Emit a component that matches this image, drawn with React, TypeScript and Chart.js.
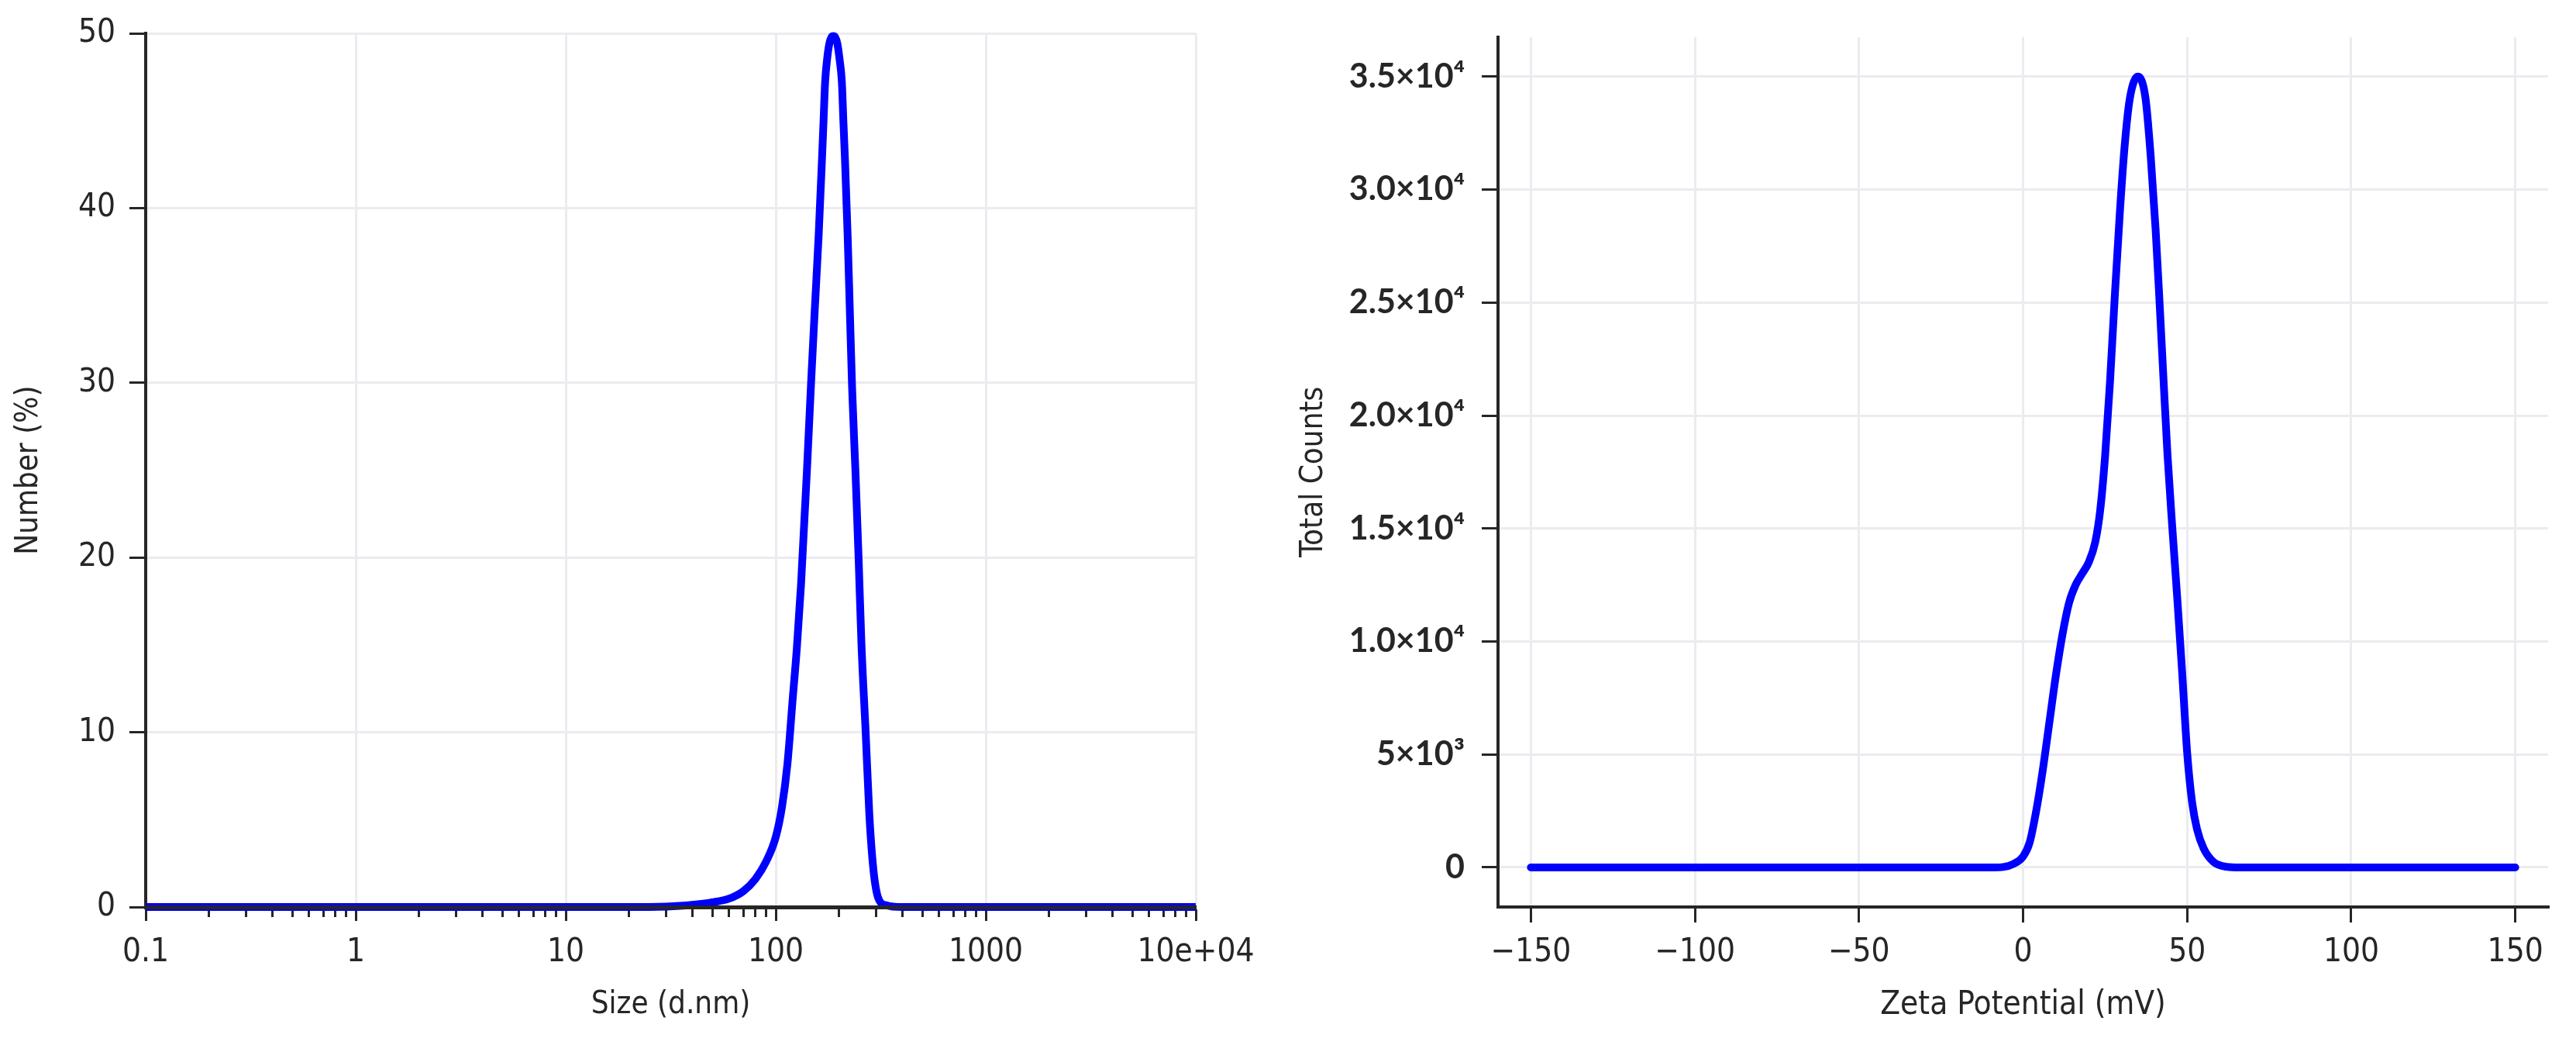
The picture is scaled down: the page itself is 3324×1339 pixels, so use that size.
import React, { useEffect, useRef } from 'react';
import { Chart, registerables } from 'chart.js';

Chart.register(...registerables);

// ---------- Left chart: size distribution (Number %) ----------
const sizeNm = [0.1, 25, 30, 40, 50, 60, 70, 80, 90, 100, 107, 113.7, 120.4, 126, 132, 140.8, 147.3, 153.1, 160, 166, 168.9, 171.8, 175.7, 180.2, 184.1, 188, 192, 196.2, 201.2, 206.5, 209.9, 213.6, 220, 225.5, 231, 239.5, 248, 256, 268, 279, 292, 308, 336, 400, 10000];
const numberPct = [0, 0, 0.02, 0.12, 0.27, 0.48, 0.9, 1.6, 2.6, 4.0, 5.7, 8.2, 11.9, 14.8, 18.5, 25, 30, 34, 38.4, 42.8, 45, 47.2, 48.55, 49.45, 49.78, 49.85, 49.78, 49.45, 48.55, 47.2, 45, 42.8, 38.4, 34, 29.7, 25, 20, 15, 10, 5.3, 2.1, 0.5, 0.1, 0, 0];
const sizeMajorTicks = [0.1, 1, 10, 100, 1000, 10000];
const sizeTickLabels = ['0.1', '1', '10', '100', '1000', '10e+04'];
const sizeMinorMultipliers = [2, 3, 4, 5, 6, 7, 8, 9];
const numberTicks = [0, 10, 20, 30, 40, 50];

// ---------- Right chart: zeta potential (Total Counts) ----------
const zetaMv = [-150, -9, -6, -3, 0, 2, 4, 6, 8, 10, 12, 14, 16, 18, 20, 22, 23.5, 25, 26.5, 28, 29.5, 31, 32.5, 35, 37.3, 38.9, 40.4, 41.6, 42.8, 44.0, 45.5, 47, 48.5, 50, 51.5, 53, 55, 58, 62, 66, 150];
const totalCounts = [0, 0, 20, 150, 480, 1100, 2500, 4300, 6400, 8500, 10300, 11700, 12500, 13000, 13500, 14400, 15800, 18200, 21500, 25400, 29000, 32000, 34000, 35000, 34060, 31470, 28220, 25000, 21600, 18300, 15000, 11900, 8600, 5100, 2900, 1700, 850, 250, 30, 0, 0];
const zetaTicks = [-150, -100, -50, 0, 50, 100, 150];
const zetaTickLabels = ['\u2212150', '\u2212100', '\u221250', '0', '50', '100', '150'];
const countTicks = [0, 5000, 10000, 15000, 20000, 25000, 30000, 35000];
const countTickLabels = ['0', '5\u00d710\u00b3', '1.0\u00d710\u2074', '1.5\u00d710\u2074', '2.0\u00d710\u2074', '2.5\u00d710\u2074', '3.0\u00d710\u2074', '3.5\u00d710\u2074'];

const AXIS = '#262626';
const GRID = '#ebebf0';
const TEXT = '#262626';
const LINE = '#0000ff';
const SANS = '"DejaVu Sans Condensed", "DejaVu Sans", sans-serif';

const isMajor = (v: number) => Math.abs(Math.log10(v) - Math.round(Math.log10(v))) < 1e-9;

function buildSizeTicks() {
  const out: number[] = [];
  for (let i = 0; i < sizeMajorTicks.length; i++) {
    out.push(sizeMajorTicks[i]);
    if (i < sizeMajorTicks.length - 1) {
      for (const m of sizeMinorMultipliers) out.push(sizeMajorTicks[i] * m);
    }
  }
  return out;
}

function SizeChart() {
  const ref = useRef<HTMLCanvasElement>(null);
  useEffect(() => {
    if (!ref.current) return;
    const allTicks = buildSizeTicks();
    const chart = new Chart(ref.current, {
      type: 'line',
      data: {
        datasets: [
          {
            data: sizeNm.map((s, i) => ({ x: s, y: numberPct[i] })),
            borderColor: LINE,
            borderWidth: 10,
            pointRadius: 0,
            cubicInterpolationMode: 'monotone',
            borderCapStyle: 'butt',
            borderJoinStyle: 'round',
            clip: { left: 0, right: 0, top: 20, bottom: 20 } as any,
          },
        ],
      },
      options: {
        animation: false,
        responsive: false,
        events: [],
        layout: { padding: { left: 0, top: 37, right: 97, bottom: 0 } },
        plugins: { legend: { display: false }, tooltip: { enabled: false } },
        scales: {
          x: {
            type: 'logarithmic',
            position: 'bottom',
            min: 0.1,
            max: 10000,
            afterBuildTicks: (s: any) => {
              s.ticks = allTicks.map((v) => ({ value: v }));
            },
            afterFit: (s: any) => {
              s.height = 169;
            },
            grid: {
              drawOnChartArea: false,
              drawTicks: true,
              tickLength: 18,
              tickColor: AXIS,
              tickWidth: 3,
              tickBorderDash: (ctx: any) => (ctx.tick && isMajor(ctx.tick.value) ? [] : [10, 100]),
            } as any,
            border: { color: AXIS, width: 5, z: 1 } as any,
            ticks: {
              autoSkip: false,
              maxRotation: 0,
              padding: 16,
              color: TEXT,
              font: { family: SANS, size: 42 },
              callback: (v: any) => {
                const idx = sizeMajorTicks.findIndex((t) => Math.abs(t - Number(v)) < 1e-9 * Math.max(1, t));
                return idx >= 0 ? sizeTickLabels[idx] : '';
              },
            },
            title: {
              display: true,
              text: 'Size (d.nm)',
              color: TEXT,
              font: { family: SANS, size: 40 },
              padding: { top: 0, bottom: 18 },
            },
          },
          xg: {
            type: 'logarithmic',
            position: 'bottom',
            min: 0.1,
            max: 10000,
            afterBuildTicks: (s: any) => {
              s.ticks = sizeMajorTicks.map((v) => ({ value: v }));
            },
            afterFit: (s: any) => {
              s.height = 0;
            },
            grid: { color: GRID, lineWidth: 3, drawTicks: false },
            border: { display: false },
            ticks: { display: false },
          } as any,
          y: {
            type: 'linear',
            position: 'left',
            min: 0,
            max: 50,
            afterBuildTicks: (s: any) => {
              s.ticks = numberTicks.map((v) => ({ value: v }));
            },
            afterFit: (s: any) => {
              s.width = 188;
            },
            grid: { color: GRID, lineWidth: 3, tickColor: AXIS, tickLength: 21, tickWidth: 3 },
            border: { color: AXIS, width: 4 },
            ticks: { padding: 18, color: TEXT, font: { family: SANS, size: 42 } },
            title: {
              display: true,
              text: 'Number (%)',
              color: TEXT,
              font: { family: SANS, size: 40 },
              padding: { top: 14, bottom: 0 },
            },
          },
        },
      } as any,
    });
    return () => chart.destroy();
  }, []);
  return <canvas ref={ref} width={1640} height={1339} style={{ position: 'absolute', left: 0, top: 0 }} />;
}

function ZetaChart() {
  const ref = useRef<HTMLCanvasElement>(null);
  useEffect(() => {
    if (!ref.current) return;
    const chart = new Chart(ref.current, {
      type: 'line',
      data: {
        datasets: [
          {
            data: zetaMv.map((z, i) => ({ x: z, y: totalCounts[i] })),
            borderColor: LINE,
            borderWidth: 10,
            pointRadius: 0,
            cubicInterpolationMode: 'monotone',
            borderCapStyle: 'round',
            borderJoinStyle: 'round',
            clip: false as any,
          },
        ],
      },
      options: {
        animation: false,
        responsive: false,
        events: [],
        layout: { padding: { left: 0, top: 33, right: 36, bottom: 0 } },
        plugins: { legend: { display: false }, tooltip: { enabled: false } },
        scales: {
          x: {
            type: 'linear',
            position: 'bottom',
            min: -160,
            max: 160,
            afterBuildTicks: (s: any) => {
              s.ticks = zetaTicks.map((v) => ({ value: v }));
            },
            afterFit: (s: any) => {
              s.height = 169;
            },
            grid: { color: GRID, lineWidth: 3, tickColor: AXIS, tickLength: 20, tickWidth: 3 },
            border: { color: AXIS, width: 4 },
            ticks: {
              autoSkip: false,
              maxRotation: 0,
              padding: 14,
              color: TEXT,
              font: { family: SANS, size: 42 },
              callback: (v: any) => {
                const idx = zetaTicks.indexOf(Number(v));
                return idx >= 0 ? zetaTickLabels[idx] : '';
              },
            },
            title: {
              display: true,
              text: 'Zeta Potential (mV)',
              color: TEXT,
              font: { family: SANS, size: 42 },
              padding: { top: 0, bottom: 17 },
            },
          },
          y: {
            type: 'linear',
            position: 'left',
            min: -1750,
            max: 36750,
            afterBuildTicks: (s: any) => {
              s.ticks = countTicks.map((v) => ({ value: v }));
            },
            afterFit: (s: any) => {
              s.width = 293;
            },
            grid: { color: GRID, lineWidth: 3, tickColor: AXIS, tickLength: 21, tickWidth: 3 },
            border: { color: AXIS, width: 4 },
            ticks: {
              padding: 22,
              color: TEXT,
              font: { family: 'Lato, "DejaVu Sans", sans-serif', size: 43, weight: 'bold' },
              callback: (v: any) => {
                const idx = countTicks.indexOf(Number(v));
                return idx >= 0 ? countTickLabels[idx] : '';
              },
            },
            title: {
              display: true,
              text: 'Total Counts',
              color: TEXT,
              font: { family: SANS, size: 40 },
              padding: { top: 32, bottom: 0 },
            },
          },
        },
      } as any,
    });
    return () => chart.destroy();
  }, []);
  return <canvas ref={ref} width={1684} height={1339} style={{ position: 'absolute', left: 1640, top: 0 }} />;
}

export default function App() {
  return (
    <div style={{ position: 'absolute', left: 0, top: 0, width: 3324, height: 1339, background: '#ffffff', overflow: 'hidden' }}>
      <SizeChart />
      <ZetaChart />
    </div>
  );
}
